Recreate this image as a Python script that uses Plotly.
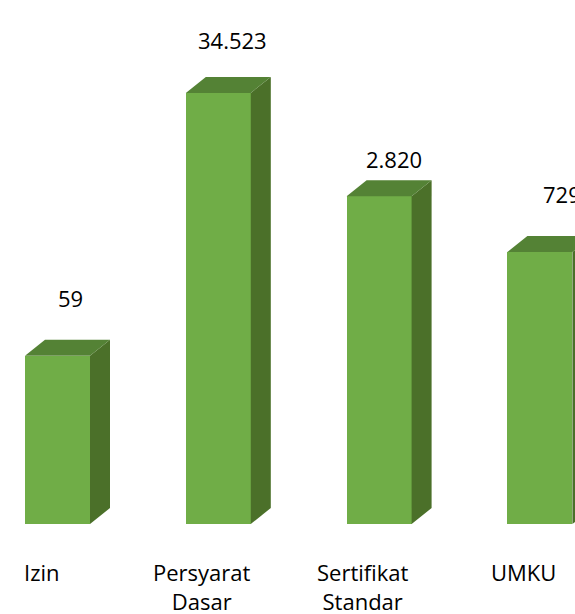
import math
import plotly.graph_objects as go

categories = ["Izin", "Persyarat<br>Dasar", "Sertifikat<br>Standar", "UMKU"]
values = [59, 34523, 2820, 729]
value_text = ["59", "34.523", "2.820", "729"]

# styling
label_dx_px = [13, 14.5, 15, 22]
label_dy_px = [58, 53, 37, 58]
FRONT = "#70AD47"
TOP = "#548235"
SIDE = "#4B7029"

W, H = 575, 614
px_per_unit = 160.8
first_center = 57.5
bar_w = 65 / px_per_unit
depth_dx = 20 / px_per_unit
px_per_decade = 95.0
depth_f = 10 ** (16 / px_per_decade)
base_px = 524

xs = list(range(len(values)))
fig = go.Figure()

for x, v in zip(xs, values):
    xl, xr = x - bar_w / 2, x + bar_w / 2
    fig.add_trace(go.Scatter(
        x=[xr, xr + depth_dx, xr + depth_dx, xr, xr],
        y=[1, depth_f, v * depth_f, v, 1],
        fill="toself", fillcolor=SIDE, mode="lines", line=dict(width=0),
        hoverinfo="skip", showlegend=False))
    fig.add_trace(go.Scatter(
        x=[xl, xl + depth_dx, xr + depth_dx, xr, xl],
        y=[v, v * depth_f, v * depth_f, v, v],
        fill="toself", fillcolor=TOP, mode="lines", line=dict(width=0),
        hoverinfo="skip", showlegend=False))

fig.add_trace(go.Bar(x=xs, y=values, width=bar_w, marker=dict(color=FRONT, line=dict(width=0)),
                     showlegend=False, hoverinfo="skip"))

for x, v, t, dx, dy in zip(xs, values, value_text, label_dx_px, label_dy_px):
    fig.add_annotation(x=x, y=math.log10(v), text=t, showarrow=False,
                       xshift=dx, yshift=dy, font=dict(size=22, color="#000000"))

for x, c in zip(xs, categories):
    fig.add_annotation(x=x, y=0, yref="paper", text=c, showarrow=False,
                       xshift=-16, yshift=-31, yanchor="top",
                       font=dict(size=22, color="#000000"))

fig.update_layout(
    width=W, height=H,
    margin=dict(l=0, r=0, t=0, b=H - base_px),
    paper_bgcolor="white", plot_bgcolor="white",
    font=dict(family="Open Sans"),
    bargap=0,
    xaxis=dict(range=[-first_center / px_per_unit, (W - first_center) / px_per_unit],
               visible=False, fixedrange=True),
    yaxis=dict(type="log", range=[0, base_px / px_per_decade], visible=False, fixedrange=True),
)
fig.write_html("out.html",
               config={"displayModeBar": False, "staticPlot": True},
               post_script="document.body.style.margin='0';document.body.style.overflow='hidden';")
